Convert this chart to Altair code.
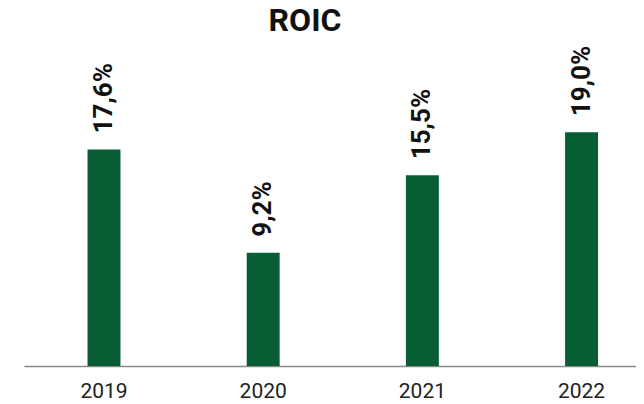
import altair as alt
import pandas as pd

years = ["2019", "2020", "2021", "2022"]
roic = [17.6, 9.2, 15.5, 19.0]
labels = ["17,6%", "9,2%", "15,5%", "19,0%"]

df = pd.DataFrame({"year": years, "roic": roic, "label": labels})

GREEN = "#075e35"

x = alt.X("year:N", sort=years, title=None,
          scale=alt.Scale(paddingInner=0.793, paddingOuter=0.3187, align=0.626),
          axis=alt.Axis(labelAngle=0, ticks=False, domain=True, domainColor="#888888",
                        domainWidth=1.5, labelFont="Roboto", labelFontSize=21,
                        labelColor="#222222", labelPadding=14, grid=False))
y = alt.Y("roic:Q", scale=alt.Scale(domain=[0, 26], nice=False, zero=True), axis=None)

bars = alt.Chart(df).mark_bar(color=GREEN).encode(x=x, y=y)
text = alt.Chart(df).mark_text(angle=270, align="left", baseline="middle", dx=16,
                               font="Roboto", fontSize=26, fontWeight="bold",
                               color="#111111").encode(x=x, y=y, text="label:N")

chart = (bars + text).properties(
    width=612, height=320,
    title=alt.TitleParams("ROIC", font="Roboto", fontSize=32, fontWeight="bold",
                          color="#111111", anchor="middle", dx=-25, offset=8),
    padding={"left": 16, "right": 0, "top": 38, "bottom": 37},
    autosize=alt.AutoSizeParams(type="none"),
).configure_view(stroke=None)

chart.save("out.html", embed_options={"renderer": "svg", "actions": False})
